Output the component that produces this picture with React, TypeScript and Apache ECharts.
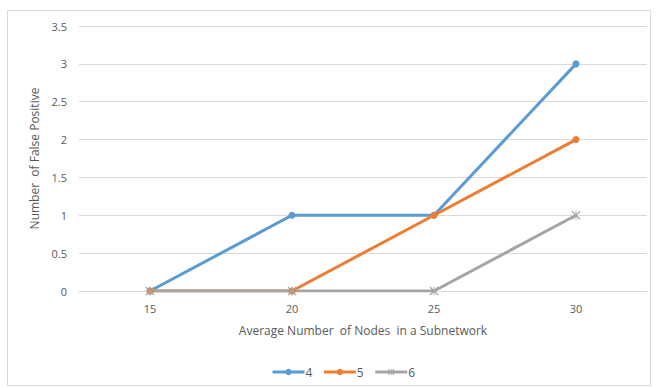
import React, { useEffect, useRef } from "react";
import * as echarts from "echarts";

const categories = ["15", "20", "25", "30"];
const series4 = [0, 1, 1, 3];
const series5 = [0, 0, 1, 2];
const series6 = [0, 0, 0, 1];
const seriesNames = ["4", "5", "6"];
const colors = ["#5B9BD5", "#ED7D31", "#A5A5A5"];

const FONT = "'Open Sans', 'Liberation Sans', sans-serif";
const TXT = "#595959";

export default function App() {
  const ref = useRef<HTMLDivElement>(null);
  useEffect(() => {
    if (!ref.current) return;
    const chart = echarts.init(ref.current, undefined, { renderer: "svg" });
    const starPath =
      "path://M0,1L1,0L5,4L9,0L10,1L6,5L10,9L9,10L5,6L1,10L0,9L4,5Z M4.5,0L5.5,0L5.5,10L4.5,10Z";
    const mk = (i: number, data: number[], symbol: string) => ({
      name: seriesNames[i],
      type: "line",
      data,
      symbol,
      symbolSize: symbol === "circle" ? 7 : 9,
      showSymbol: true,
      lineStyle: { width: 3, color: colors[i] },
      itemStyle: { color: colors[i] },
    });
    chart.setOption({
      animation: false,
      textStyle: { fontFamily: FONT },
      graphic: [
        {
          type: "rect",
          shape: { x: 7.5, y: 10.5, width: 643, height: 375 },
          style: { fill: "none", stroke: "#D9D9D9", lineWidth: 1 },
          silent: true,
        },
      ],
      grid: { left: 79, right: 12, top: 26, bottom: 97 },
      legend: {
        data: seriesNames,
        bottom: 5,
        left: 266,
        itemWidth: 32,
        itemHeight: 8,
        itemGap: 10,
        lineStyle: { width: 3 },
        textStyle: { color: TXT, fontSize: 12, fontFamily: FONT, padding: [0, 0, 0, -4] },
      },
      xAxis: {
        type: "category",
        data: categories,
        boundaryGap: true,
        name: "Average Number  of Nodes  in a Subnetwork",
        nameLocation: "middle",
        nameGap: 33,
        nameTextStyle: { color: TXT, fontSize: 12, fontFamily: FONT },
        axisLine: { lineStyle: { color: "#D9D9D9" } },
        axisTick: { show: false },
        axisLabel: { color: TXT, fontSize: 11, margin: 12, fontFamily: FONT },
      },
      yAxis: {
        type: "value",
        min: 0,
        max: 3.5,
        interval: 0.5,
        name: "Number  of False Positive",
        nameLocation: "middle",
        nameGap: 37,
        nameTextStyle: { color: TXT, fontSize: 12, fontFamily: FONT },
        axisLine: { show: false },
        axisTick: { show: false },
        axisLabel: { color: TXT, fontSize: 11, margin: 12, fontFamily: FONT },
        splitLine: { lineStyle: { color: "#D9D9D9" } },
      },
      series: [mk(0, series4, "circle"), mk(1, series5, "circle"), mk(2, series6, starPath)],
    });
    return () => chart.dispose();
  }, []);
  return (
    <div
      ref={ref}
      style={{ position: "absolute", left: 0, top: 0, width: 659, height: 388, background: "#fff" }}
    />
  );
}
